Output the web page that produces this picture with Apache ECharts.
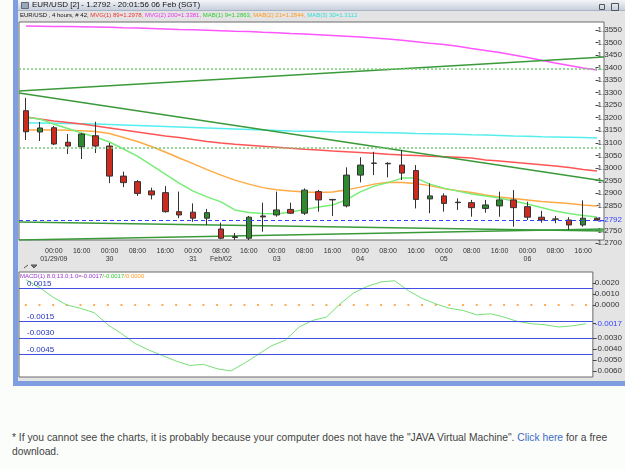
<!DOCTYPE html>
<html>
<head>
<meta charset="utf-8">
<script src="https://cdn.jsdelivr.net/npm/echarts@6/dist/echarts.min.js"></script>
<style>
  html, body { margin: 0; padding: 0; width: 625px; height: 469px; overflow: hidden; background: #fbfdfb; font-family: "Liberation Sans", Arial, sans-serif; }
  #frame { position: absolute; left: 13px; top: 0; width: 612px; height: 381px; background: #e4e4e4; border-left: 5px solid #7f9ee0; border-bottom: 5px solid #7f9ee0; box-sizing: content-box; }
  #titlebar { position: absolute; left: 18px; top: 0; width: 607px; height: 10px; background: linear-gradient(#f2f4f8, #c9d0dc); border-bottom: 1px solid #a8b4c8; }
  #chart { position: absolute; left: 0; top: 0; width: 625px; height: 390px; }
  #note { position: absolute; left: 12px; top: 431px; width: 600px; font-size: 10.3px; line-height: 14px; color: #444; }
  #note a { color: #3b6cc4; text-decoration: none; }
</style>
</head>
<body>
<div id="frame"></div>
<div id="titlebar"></div>
<div id="chart"></div>
<div id="note">* If you cannot see the charts, it is probably because your computer does not have the "JAVA Virtual Machine". <a href="#">Click here</a> for a free download.</div>
<script>
// EUR/USD 4 小时 K 线 + 均线 + MACD，数值按截图读取
const candles = [ // [open, close, low, high]
  [1.3228, 1.3144, 1.3111, 1.3279], [1.3143, 1.3159, 1.3107, 1.3183], [1.3160, 1.3095, 1.3091, 1.3167],
  [1.3102, 1.3087, 1.3055, 1.3135], [1.3084, 1.3135, 1.3035, 1.3139], [1.3128, 1.3087, 1.3059, 1.3184],
  [1.3087, 1.2967, 1.2939, 1.3099], [1.2967, 1.2941, 1.2923, 1.2985], [1.2945, 1.2898, 1.2888, 1.2951],
  [1.2908, 1.2892, 1.2874, 1.2921], [1.2901, 1.2825, 1.2821, 1.2927], [1.2825, 1.2812, 1.2799, 1.2905],
  [1.2823, 1.2799, 1.2785, 1.2858], [1.2799, 1.2821, 1.2772, 1.2836], [1.2756, 1.2719, 1.2715, 1.2781],
  [1.2725, 1.2722, 1.2712, 1.2740], [1.2719, 1.2803, 1.2712, 1.2808], [1.2808, 1.2804, 1.2745, 1.2861],
  [1.2812, 1.2832, 1.2805, 1.2905], [1.2834, 1.2819, 1.2816, 1.2861], [1.2819, 1.2911, 1.2812, 1.2918],
  [1.2905, 1.2872, 1.2825, 1.2912], [1.2872, 1.2874, 1.2808, 1.2875], [1.2848, 1.2971, 1.2842, 1.3002],
  [1.2971, 1.3011, 1.2942, 1.3042], [1.3019, 1.3018, 1.2971, 1.3064], [1.3018, 1.3016, 1.2962, 1.3022],
  [1.3011, 1.2979, 1.2951, 1.3071], [1.2989, 1.2874, 1.2838, 1.3011], [1.2876, 1.2888, 1.2819, 1.2938],
  [1.2888, 1.2858, 1.2825, 1.2898], [1.2863, 1.2861, 1.2832, 1.2878], [1.2861, 1.2841, 1.2805, 1.2872],
  [1.2838, 1.2852, 1.2821, 1.2872], [1.2848, 1.2872, 1.2805, 1.2905], [1.2872, 1.2841, 1.2765, 1.2911],
  [1.2845, 1.2803, 1.2792, 1.2865], [1.2803, 1.2792, 1.2781, 1.2828], [1.2796, 1.2795, 1.2779, 1.2808],
  [1.2792, 1.2772, 1.2752, 1.2803], [1.2772, 1.2799, 1.2765, 1.2870], [1.2799, 1.2792, 1.2790, 1.2801]
];
const mvg89 = [1.3203, 1.3195, 1.3187, 1.3181, 1.3175, 1.3167, 1.3159, 1.3151, 1.3143, 1.3135, 1.3127, 1.3121,
  1.3113, 1.3105, 1.3099, 1.3094, 1.3090, 1.3086, 1.3082, 1.3078, 1.3074, 1.3071, 1.3067, 1.3064, 1.3061, 1.3058,
  1.3054, 1.3051, 1.3049, 1.3046, 1.3044, 1.3042, 1.3039, 1.3031, 1.3027, 1.3022, 1.3017, 1.3012, 1.3007, 1.3001,
  1.2993, 1.2987];
const mvg200 = [1.3566, 1.3565, 1.3564, 1.3564, 1.3563, 1.3562, 1.3561, 1.3559, 1.3558, 1.3556, 1.3554, 1.3552,
  1.3551, 1.3549, 1.3547, 1.3545, 1.3544, 1.3541, 1.3539, 1.3536, 1.3534, 1.3531, 1.3528, 1.3525, 1.3522, 1.3518,
  1.3514, 1.3509, 1.3503, 1.3497, 1.3492, 1.3485, 1.3476, 1.3468, 1.3460, 1.3450, 1.3440, 1.3429, 1.3418, 1.3408,
  1.3398, 1.3390];
const mab9 = [1.3201, 1.3195, 1.3175, 1.3157, 1.3139, 1.3123, 1.3103, 1.3075, 1.3047, 1.3011, 1.2975, 1.2939,
  1.2907, 1.2884, 1.2864, 1.2832, 1.2822, 1.2818, 1.2816, 1.2824, 1.2834, 1.2844, 1.2852, 1.2872, 1.2904, 1.2927,
  1.2941, 1.2959, 1.2959, 1.2935, 1.2919, 1.2907, 1.2896, 1.2888, 1.2880, 1.2868, 1.2856, 1.2842, 1.2828, 1.2818,
  1.2810, 1.2804];
const mab21 = [1.3151, 1.3151, 1.3151, 1.3150, 1.3148, 1.3145, 1.3137, 1.3121, 1.3105, 1.3085, 1.3063, 1.3039,
  1.3017, 1.2993, 1.2971, 1.2951, 1.2935, 1.2921, 1.2913, 1.2908, 1.2904, 1.2902, 1.2904, 1.2912, 1.2923, 1.2935,
  1.2942, 1.2941, 1.2937, 1.2929, 1.2917, 1.2909, 1.2902, 1.2892, 1.2884, 1.2878, 1.2872, 1.2866, 1.2862, 1.2858,
  1.2852, 1.2848];
const mab30 = [1.3179, 1.3179, 1.3178, 1.3177, 1.3176, 1.3175, 1.3173, 1.3171, 1.3169, 1.3167, 1.3165, 1.3163,
  1.3161, 1.3159, 1.3157, 1.3155, 1.3153, 1.3151, 1.3149, 1.3147, 1.3146, 1.3146, 1.3144, 1.3143, 1.3142, 1.3141,
  1.3140, 1.3139, 1.3137, 1.3136, 1.3135, 1.3134, 1.3132, 1.3131, 1.3129, 1.3127, 1.3126, 1.3124, 1.3123, 1.3122,
  1.3121, 1.3119];
const macd = [0.0023, 0.0016, 0.0007, 0.0000, -0.0003, -0.0007, -0.0018, -0.0026, -0.0035, -0.0041, -0.0046, -0.0051,
  -0.0055, -0.0054, -0.0058, -0.0060, -0.0053, -0.0045, -0.0037, -0.0032, -0.0020, -0.0014, -0.0011, 0.0001, 0.0011,
  0.0017, 0.0021, 0.0022, 0.0013, 0.0006, 0.0001, -0.0003, -0.0005, -0.0009, -0.0008, -0.0011, -0.0015, -0.0017,
  -0.0018, -0.0020, -0.0019, -0.0017];
const macdHist = [0, 0, 0, 0, 0, 0, 0, 0, 0, 0, 0, 0, 0, 0, 0, 0, 0, 0, 0, 0, 0,
  0, 0, 0, 0, 0, 0, 0, 0, 0, 0, 0, 0, 0, 0, 0, 0, 0, 0, 0, 0, 0];
// 趋势线: [左端价, 右端价]
const trendLines = [[1.3299, 1.2947], [1.3307, 1.3442], [1.2784, 1.2748], [1.2712, 1.2756]];
const levelLines = [1.3079, 1.3394];
const lastPrice = 1.2792;
const lastMacd = -0.0017;
const macdLevels = [0.0015, -0.0015, -0.0030, -0.0045];
const priceTicks = [1.2700, 1.2750, 1.2792, 1.2850, 1.2900, 1.2950, 1.3000, 1.3050, 1.3100, 1.3150, 1.3200,
  1.3250, 1.3300, 1.3350, 1.3400, 1.3450, 1.3500, 1.3550];
const macdTicks = [0.0020, 0.0010, 0.0000, -0.0017, -0.0030, -0.0040, -0.0050, -0.0060];
const tickTimes = ['00:00', '16:00', '00:00', '08:00', '16:00', '00:00', '08:00', '16:00', '00:00', '08:00',
  '16:00', '00:00', '08:00', '16:00', '00:00', '08:00', '16:00', '00:00', '08:00', '16:00'];
const tickDates = ['01/29/09', '', '30', '', '', '31', 'Feb/02', '', '03', '', '', '04', '', '', '05', '', '', '06', '', ''];

const cats = candles.map((_, i) => (i >= 2 && i % 2 === 0 && i <= 40)
  ? tickTimes[(i - 2) / 2] + '\n' + tickDates[(i - 2) / 2] : '');

const FONT = '"Liberation Sans", Arial, sans-serif';
const NARROW = '"Liberation Sans Narrow", "Liberation Sans", Arial, sans-serif';
const L = 19, R = 21;
const near = (a, b) => Math.abs(a - b) < 1e-7;

function maLine(name, data, color) {
  return { name, type: 'line', xAxisIndex: 0, yAxisIndex: 0, data, symbol: 'none', silent: true,
    lineStyle: { color, width: 1.5 }, z: 2 };
}
function sideLabels(fmtCur) {
  return { fontFamily: NARROW, fontSize: 8, color: '#333', margin: 2,
    formatter: v => near(v, fmtCur) ? '{cur|' + v.toFixed(4) + '}' : v.toFixed(4),
    rich: { cur: { color: '#3344ff', fontFamily: NARROW, fontSize: 8 } } };
}

const chart = echarts.init(document.getElementById('chart'));
chart.setOption({
  animation: false,
  textStyle: { fontFamily: FONT },
  grid: [
    { left: L, right: R, top: 22, height: 218, show: true, backgroundColor: '#fff', borderColor: '#6a6a6a', borderWidth: 1 },
    { left: L, right: R, top: 22, height: 221, show: false },
    { left: L, right: R, top: 272, height: 105, show: true, backgroundColor: '#fff', borderColor: '#6a6a6a', borderWidth: 1 }
  ],
  xAxis: [
    { type: 'category', gridIndex: 0, data: cats, axisLine: { show: false }, axisTick: { show: false },
      axisLabel: { interval: 0, fontFamily: NARROW, fontSize: 7, color: '#333', lineHeight: 8, margin: 7 } },
    { type: 'value', gridIndex: 0, min: -0.5, max: 41.5, show: false },
    { type: 'category', gridIndex: 1, data: cats, show: false },
    { type: 'category', gridIndex: 2, data: cats, show: false }
  ],
  yAxis: [
    { type: 'value', gridIndex: 0, min: 1.2712, max: 1.3582, show: false },
    { type: 'value', gridIndex: 1, position: 'right', min: 1.2700, max: 1.3582,
      axisLine: { show: false }, splitLine: { show: false },
      axisTick: { show: true, length: 3, customValues: priceTicks, lineStyle: { color: '#444' } },
      axisLabel: { customValues: priceTicks, ...sideLabels(lastPrice) } },
    { type: 'value', gridIndex: 2, position: 'right', min: -0.00655, max: 0.0030,
      axisLine: { show: false }, splitLine: { show: false },
      axisTick: { show: true, length: 3, customValues: macdTicks, lineStyle: { color: '#444' } },
      axisLabel: { customValues: macdTicks, ...sideLabels(lastMacd) } }
  ],
  series: [
    maLine('MVG(2) 200', mvg200, '#ff55ff'),
    maLine('MAB(3) 30', mab30, '#55eeee'),
    maLine('MVG(1) 89', mvg89, '#ff5555'),
    maLine('MAB(2) 21', mab21, '#ffaa44'),
    maLine('MAB(1) 9', mab9, '#77ee77'),
    ...trendLines.map(t => ({
      type: 'line', xAxisIndex: 1, yAxisIndex: 0, data: [[-0.5, t[0]], [41.5, t[1]]], symbol: 'none', silent: true,
      lineStyle: { color: '#3a9a3a', width: 1.5 }, z: 2
    })),
    {
      type: 'candlestick', xAxisIndex: 0, yAxisIndex: 0, data: candles, barWidth: 6, z: 3,
      itemStyle: { color: '#2f8a2f', color0: '#cc2b20', borderColor: '#333', borderColor0: '#333', borderWidth: 1 },
      markLine: {
        symbol: 'none', silent: true, precision: 6, label: { show: false },
        data: [
          ...levelLines.map(v => ({ yAxis: v, lineStyle: { color: '#77cc77', type: [2, 2], width: 1.5 } })),
          { yAxis: lastPrice, lineStyle: { color: '#3344ff', type: [4, 3], width: 1 } }
        ]
      }
    },
    {
      type: 'line', xAxisIndex: 3, yAxisIndex: 2, data: macd, symbol: 'none', silent: true,
      lineStyle: { color: '#77e077', width: 1 },
      markLine: {
        symbol: 'none', silent: true, precision: 6,
        lineStyle: { color: '#4050e6', type: 'solid', width: 1.2 },
        label: { show: true, position: 'insideStartTop', formatter: p => p.value.toFixed(4),
          color: '#2233bb', fontSize: 8, distance: [8, 1] },
        data: macdLevels.map(v => ({ yAxis: v }))
      }
    },
    {
      type: 'scatter', xAxisIndex: 3, yAxisIndex: 2, data: macdHist, symbol: 'rect', symbolSize: 2,
      silent: true, itemStyle: { color: '#ff9922' }
    }
  ],
  graphic: [
    { type: 'rect', left: 21, top: 2, shape: { width: 7, height: 6 }, style: { fill: '#9aa6ba', stroke: '#667' } },
    { type: 'text', left: 32, top: 1, style: { text: 'EUR/USD [2] - 1.2792 - 20:01:56 06 Feb (SGT)', font: '8px ' + FONT, fill: '#111' } },
    { type: 'rect', right: 18, top: 2, shape: { width: 5, height: 5 }, style: { fill: 'none', stroke: '#555' } },
    { type: 'rect', right: 4, top: 1, shape: { width: 7, height: 7 }, style: { fill: 'none', stroke: '#555' } },
    { type: 'text', left: 20, top: 12, style: {
      text: '{k|EUR/USD , 4 hours, # 42, }{r|MVG(1) 89=1.2978, }{m|MVG(2) 200=1.3381, }{g|MAB(1) 9=1.2863, }{o|MAB(2) 21=1.2844, }{c|MAB(3) 30=1.3112}',
      font: '6px ' + NARROW,
      rich: { k: { fill: '#111' }, r: { fill: '#ee3333' }, m: { fill: '#ee33ee' },
        g: { fill: '#33cc33' }, o: { fill: '#ff9922' }, c: { fill: '#33dddd' } } } },
    { type: 'polyline', shape: { points: [[24, 268], [28, 265]] }, style: { stroke: '#555', lineWidth: 1 } },
    { type: 'polyline', shape: { points: [[31, 265], [37, 265], [34, 268], [31, 265]] }, style: { stroke: '#555', fill: '#777', lineWidth: 1 } },
    { type: 'text', left: 20, top: 273, style: {
      text: '{p|MACD(1) 8.0;13.0;1.0=-0.0017}{g|/-0.0017}{o|/0.0000}',
      font: '6px ' + NARROW,
      rich: { p: { fill: '#9933cc' }, g: { fill: '#33cc33' }, o: { fill: '#ff9922' } } } }
  ]
});
</script>
</body>
</html>
